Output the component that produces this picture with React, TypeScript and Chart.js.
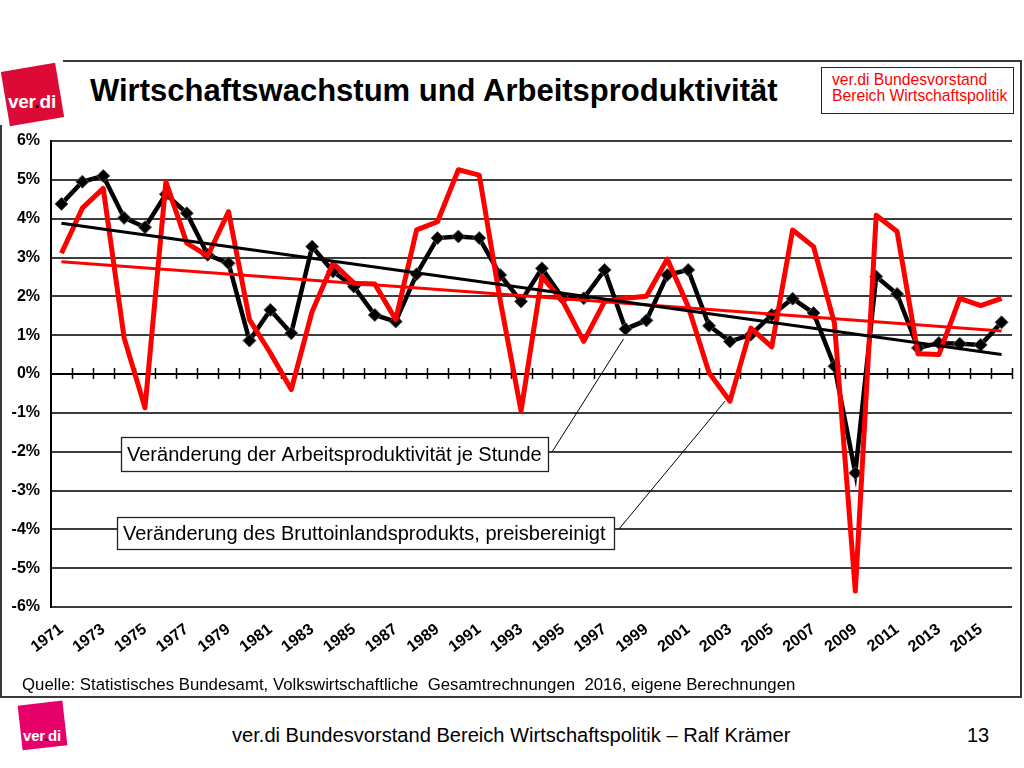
import React, { useEffect, useRef } from "react";
import { Chart, registerables } from "chart.js";

Chart.register(...registerables);

const years = [
  "1971", "1972", "1973", "1974", "1975", "1976", "1977", "1978", "1979", "1980",
  "1981", "1982", "1983", "1984", "1985", "1986", "1987", "1988", "1989", "1990",
  "1991", "1992", "1993", "1994", "1995", "1996", "1997", "1998", "1999", "2000",
  "2001", "2002", "2003", "2004", "2005", "2006", "2007", "2008", "2009", "2010",
  "2011", "2012", "2013", "2014", "2015", "2016",
];

// Veränderung der Arbeitsproduktivität je Stunde (%)
const productivity = [
  4.38, 4.95, 5.1, 4.02, 3.78, 4.63, 4.14, 3.07, 2.85, 0.86,
  1.65, 1.05, 3.28, 2.64, 2.25, 1.52, 1.35, 2.57, 3.5, 3.54,
  3.5, 2.55, 1.87, 2.72, 1.95, 1.95, 2.68, 1.16, 1.38, 2.55,
  2.68, 1.24, 0.84, 1.01, 1.52, 1.94, 1.57, 0.2, -2.55, 2.51,
  2.06, 0.67, 0.8, 0.78, 0.75, 1.33,
];

// Veränderung des Bruttoinlandsprodukts, preisbereinigt (%)
const gdp = [
  3.11, 4.27, 4.78, 0.93, -0.87, 4.95, 3.37, 3.04, 4.18, 1.4,
  0.54, -0.4, 1.61, 2.85, 2.34, 2.32, 1.4, 3.71, 3.92, 5.26,
  5.12, 1.9, -0.95, 2.51, 1.87, 0.84, 1.87, 1.95, 2.0, 2.96,
  1.74, 0.03, -0.7, 1.18, 0.7, 3.71, 3.28, 1.31, -5.59, 4.09,
  3.67, 0.52, 0.5, 1.95, 1.76, 1.95,
];

// Linear trends (end points)
const productivityTrend = [
  { x: "1971", y: 3.88 },
  { x: "2016", y: 0.5 },
];
const gdpTrend = [
  { x: "1971", y: 2.89 },
  { x: "2016", y: 1.11 },
];

const yMin = -6;
const yMax = 6;

const labelProductivity = "Veränderung der Arbeitsproduktivität je Stunde";
const labelGdp = "Veränderung des Bruttoinlandsprodukts, preisbereinigt";

const FONT = "'Liberation Sans', Arial, sans-serif";
const CANVAS_TOP = 120;

const zeroAxisPlugin = {
  id: "zeroAxis",
  beforeDatasetsDraw(chart: any) {
    const { ctx, scales, chartArea } = chart;
    const x = scales.x;
    const y = scales.y;
    const y0 = y.getPixelForValue(0);
    const n = chart.data.labels.length;
    const half = (x.getPixelForValue(1) - x.getPixelForValue(0)) / 2;
    ctx.save();
    ctx.strokeStyle = "#000";
    ctx.lineWidth = 2;
    ctx.beginPath();
    ctx.moveTo(chartArea.left, y0);
    ctx.lineTo(chartArea.right, y0);
    ctx.stroke();
    ctx.lineWidth = 1.5;
    ctx.beginPath();
    for (let i = 0; i < n; i++) {
      const px = Math.round(x.getPixelForValue(i) + half) + 0.5;
      ctx.moveTo(px, y0 - 6);
      ctx.lineTo(px, y0 + 5);
    }
    ctx.stroke();
    ctx.restore();
  },
};

const annotationPlugin = {
  id: "annotationBoxes",
  afterDatasetsDraw(chart: any) {
    const { ctx, scales } = chart;
    const x = scales.x;
    const y = scales.y;
    const boxes = [
      { text: labelProductivity, left: 121, top: 437, right: 548, bottom: 471, from: [552, 452], idx: 27, val: productivity[27], dx: -2, dy: 10 },
      { text: labelGdp, left: 117, top: 517, right: 614, bottom: 549, from: [619, 529], idx: 32, val: gdp[32], dx: -5, dy: 0 },
    ];
    ctx.save();
    for (const b of boxes) {
      const t = b.top - CANVAS_TOP;
      const bt = b.bottom - CANVAS_TOP;
      ctx.fillStyle = "#fff";
      ctx.fillRect(b.left, t, b.right - b.left, bt - t);
      ctx.strokeStyle = "#222";
      ctx.lineWidth = 1.3;
      ctx.strokeRect(b.left + 0.5, t + 0.5, b.right - b.left, bt - t);
      ctx.fillStyle = "#000";
      ctx.font = `20px ${FONT}`;
      ctx.textBaseline = "middle";
      ctx.textAlign = "left";
      ctx.fillText(b.text, b.left + 6, (t + bt) / 2 + 1);
      ctx.lineWidth = 1;
      ctx.strokeStyle = "#000";
      ctx.beginPath();
      ctx.moveTo(b.from[0], b.from[1] - CANVAS_TOP);
      ctx.lineTo(x.getPixelForValue(b.idx) + b.dx, y.getPixelForValue(b.val) + b.dy);
      ctx.stroke();
    }
    ctx.restore();
  },
};

export default function App() {
  const canvasRef = useRef<HTMLCanvasElement>(null);

  useEffect(() => {
    const canvas = canvasRef.current;
    if (!canvas) return;
    const chart = new Chart(canvas, {
      type: "line",
      data: {
        labels: years,
        datasets: [
          {
            label: "Trend Produktivität",
            data: productivityTrend as any,
            borderColor: "#000",
            borderWidth: 3,
            pointRadius: 0,
            order: 0,
          },
          {
            label: "Trend BIP",
            data: gdpTrend as any,
            borderColor: "#ff0000",
            borderWidth: 3,
            pointRadius: 0,
            order: 0,
          },
          {
            label: labelGdp,
            data: gdp,
            borderColor: "#ff0000",
            borderWidth: 5,
            borderJoinStyle: "round",
            pointRadius: 0,
            order: 1,
          },
          {
            label: labelProductivity,
            data: productivity,
            borderColor: "#000",
            borderWidth: 4.5,
            pointStyle: "rectRot",
            pointRadius: 6.5,
            pointBackgroundColor: "#000",
            pointBorderColor: "#555",
            pointBorderWidth: 1,
            order: 2,
          },
        ],
      },
      options: {
        animation: false,
        responsive: false,
        maintainAspectRatio: false,
        layout: { padding: { top: 21, right: 8, left: 0, bottom: 0 } },
        plugins: {
          legend: { display: false },
          tooltip: { enabled: false },
        },
        scales: {
          x: {
            type: "category",
            offset: true,
            grid: { display: false },
            border: { display: false },
            ticks: {
              autoSkip: false,
              maxRotation: 37,
              minRotation: 37,
              padding: 5,
              color: "#000",
              font: { family: FONT, size: 16, weight: "bold" },
              callback: function (this: any, val: any, idx: number) {
                return idx % 2 === 0 ? this.getLabelForValue(val) : "";
              },
            },
            afterFit: (s: any) => {
              s.height = 73;
            },
          },
          y: {
            min: yMin,
            max: yMax,
            ticks: {
              stepSize: 1,
              padding: 11,
              color: "#000",
              font: { family: FONT, size: 16, weight: "bold" },
              callback: (v: any) => `${v}%`,
            },
            grid: {
              color: (c: any) => (c.tick && c.tick.value === 0 ? "#000" : "#3c3c3c"),
              lineWidth: 2,
              drawTicks: false,
            },
            border: { display: true, color: "#000", width: 2 },
            afterFit: (s: any) => {
              s.width = 51;
            },
          },
        },
      },
      plugins: [zeroAxisPlugin, annotationPlugin],
    } as any);
    return () => chart.destroy();
  }, []);

  return (
    <div
      style={{
        position: "fixed",
        left: 0,
        top: 0,
        width: 1024,
        height: 768,
        background: "#fff",
        overflow: "hidden",
        fontFamily: FONT,
      }}
    >
      {/* frame */}
      <div style={{ position: "absolute", left: 63, top: 60, width: 959, height: 2, background: "#3a3a3a" }} />
      <div style={{ position: "absolute", left: 0, top: 125, width: 2, height: 573, background: "#3a3a3a" }} />
      <div style={{ position: "absolute", left: 1020, top: 60, width: 2, height: 638, background: "#3a3a3a" }} />
      <div style={{ position: "absolute", left: 0, top: 696, width: 1022, height: 2, background: "#3a3a3a" }} />

      {/* top logo */}
      <div
        style={{
          position: "absolute",
          left: 32 - 27.5,
          top: 94 - 27.5,
          width: 55,
          height: 55,
          background: "#dc0a36",
          transform: "rotate(-9.5deg)",
        }}
      />
      <div
        style={{
          position: "absolute",
          left: 8,
          top: 91,
          fontSize: 19,
          lineHeight: "22px",
          fontWeight: "bold",
          color: "#fff",
          letterSpacing: -0.3,
        }}
      >
        ver<span style={{ color: "#3a0010" }}>.</span>di
      </div>

      {/* title */}
      <div
        style={{
          position: "absolute",
          left: 90,
          top: 74,
          fontSize: 31,
          lineHeight: "34px",
          fontWeight: "bold",
          color: "#000",
          whiteSpace: "nowrap",
        }}
      >
        Wirtschaftswachstum und Arbeitsproduktivität
      </div>

      {/* top-right box */}
      <div
        style={{
          position: "absolute",
          left: 821,
          top: 67,
          width: 193,
          height: 47,
          border: "1.5px solid #222",
          boxSizing: "border-box",
          paddingLeft: 10,
          paddingTop: 4,
          color: "#ff0000",
          fontSize: 15.7,
          lineHeight: "16px",
          whiteSpace: "nowrap",
        }}
      >
        <div>ver.di Bundesvorstand</div>
        <div>Bereich Wirtschaftspolitik</div>
      </div>

      {/* chart */}
      <canvas
        ref={canvasRef}
        width={1020}
        height={560}
        style={{ position: "absolute", left: 0, top: CANVAS_TOP, width: 1020, height: 560 }}
      />

      {/* source */}
      <div
        style={{
          position: "absolute",
          left: 22,
          top: 675,
          fontSize: 16.8,
          lineHeight: "20px",
          color: "#000",
          whiteSpace: "pre",
        }}
      >
        {"Quelle: Statistisches Bundesamt, Volkswirtschaftliche  Gesamtrechnungen  2016, eigene Berechnungen"}
      </div>

      {/* bottom logo */}
      <div
        style={{
          position: "absolute",
          left: 42.4 - 22.4,
          top: 725.2 - 22.4,
          width: 44.8,
          height: 44.8,
          background: "#e8006a",
          transform: "rotate(-6.4deg)",
        }}
      />
      <div
        style={{
          position: "absolute",
          left: 23,
          top: 727,
          fontSize: 15,
          lineHeight: "17px",
          fontWeight: "bold",
          color: "#fff",
          letterSpacing: -0.2,
        }}
      >
        ver<span style={{ color: "#3a0018" }}>.</span>di
      </div>

      {/* footer */}
      <div
        style={{
          position: "absolute",
          left: 232,
          top: 724,
          fontSize: 20.1,
          lineHeight: "22px",
          color: "#000",
          whiteSpace: "nowrap",
        }}
      >
        ver.di Bundesvorstand Bereich Wirtschaftspolitik – Ralf Krämer
      </div>
      <div
        style={{
          position: "absolute",
          left: 967,
          top: 724,
          fontSize: 20,
          lineHeight: "22px",
          color: "#000",
        }}
      >
        13
      </div>
    </div>
  );
}
